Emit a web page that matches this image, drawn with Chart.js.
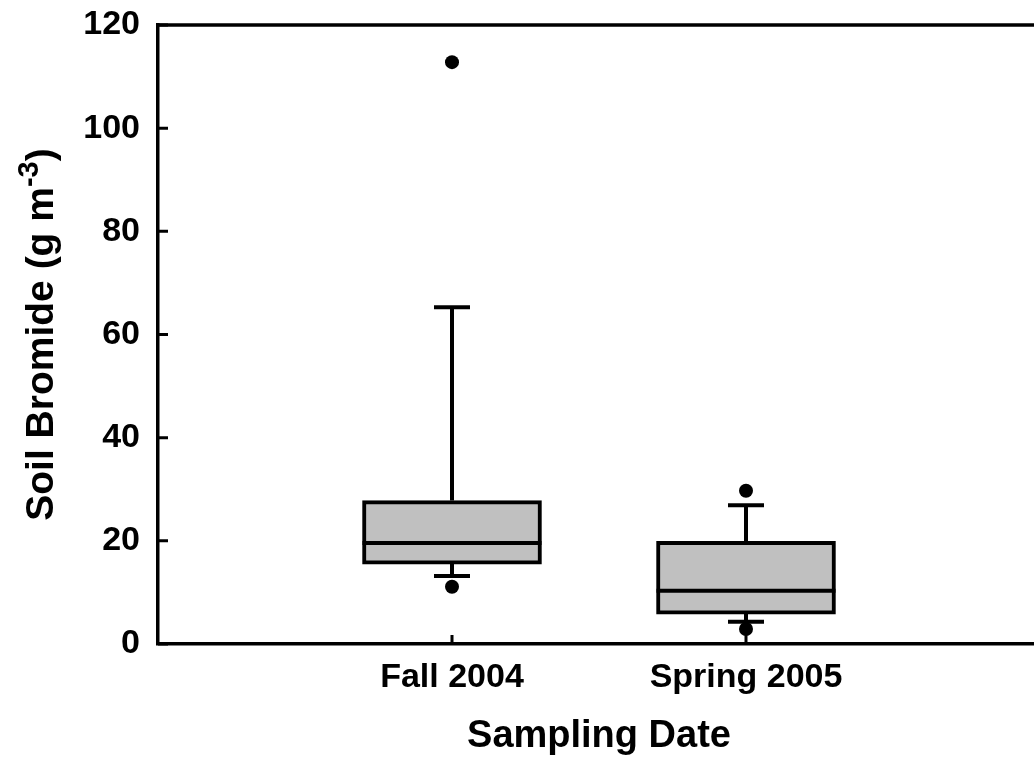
<!DOCTYPE html>
<html>
<head>
<meta charset="utf-8">
<script src="https://cdn.jsdelivr.net/npm/chart.js@4/dist/chart.umd.min.js"></script>
<style>
  html, body { margin: 0; padding: 0; background: #fff; overflow: hidden; }
  #wrap { position: relative; width: 1060px; height: 767px; }
</style>
</head>
<body>
<div id="wrap"><canvas id="chart"></canvas></div>
<script>
const dates = ["Fall 2004", "Spring 2005"];
const q1 = [15.5, 5.8];
const medians = [19.6, 10.3];
const q3 = [27.8, 19.9];
const whiskerLow = [13.2, 4.3];
const whiskerHigh = [65.3, 26.9];
const outliers = [[11.1, 112.8], [2.9, 29.7]];
const yTicks = [0, 20, 40, 60, 80, 100, 120];

const FONT = "'Liberation Sans', Arial, sans-serif";

// whiskers, caps and median lines, placed with the chart's own scales
const boxExtras = {
  id: 'boxExtras',
  afterDatasetsDraw(chart) {
    const ctx = chart.ctx;
    const x = chart.scales.x, y = chart.scales.y;
    const meta = chart.getDatasetMeta(0);
    ctx.save();
    ctx.strokeStyle = '#000';
    ctx.lineWidth = 4;
    ctx.lineCap = 'butt';
    dates.forEach((d, i) => {
      const cx = x.getPixelForValue(i + 1);
      const half = meta.data[i].width / 2;
      // median
      ctx.beginPath();
      ctx.moveTo(cx - half, y.getPixelForValue(medians[i]));
      ctx.lineTo(cx + half, y.getPixelForValue(medians[i]));
      ctx.stroke();
      // whiskers
      ctx.beginPath();
      ctx.moveTo(cx, y.getPixelForValue(q3[i]));
      ctx.lineTo(cx, y.getPixelForValue(whiskerHigh[i]));
      ctx.moveTo(cx, y.getPixelForValue(q1[i]));
      ctx.lineTo(cx, y.getPixelForValue(whiskerLow[i]));
      ctx.stroke();
      // caps
      [whiskerHigh[i], whiskerLow[i]].forEach(v => {
        ctx.beginPath();
        ctx.moveTo(cx - 18, y.getPixelForValue(v));
        ctx.lineTo(cx + 18, y.getPixelForValue(v));
        ctx.stroke();
      });
    });
    ctx.restore();
  }
};

// inward ticks, top frame line and the y title with its superscript
const frame = {
  id: 'frame',
  afterDraw(chart) {
    const ctx = chart.ctx;
    const a = chart.chartArea;
    const x = chart.scales.x, y = chart.scales.y;
    ctx.save();
    ctx.strokeStyle = '#000';
    ctx.lineWidth = 3;
    ctx.beginPath();
    y.ticks.forEach(t => {
      const py = y.getPixelForValue(t.value);
      ctx.moveTo(a.left, py);
      ctx.lineTo(a.left + 10, py);
    });
    x.ticks.forEach(t => {
      const px = x.getPixelForValue(t.value);
      ctx.moveTo(px, a.bottom);
      ctx.lineTo(px, a.bottom - 9);
    });
    ctx.stroke();
    ctx.lineWidth = 3.5;
    ctx.beginPath();
    ctx.moveTo(a.left - 1.75, a.top);
    ctx.lineTo(chart.width, a.top);
    ctx.stroke();

    const big = "bold 39px " + FONT, small = "bold 29px " + FONT;
    const main = "Soil Bromide (g m", sup = "-3", close = ")";
    ctx.font = big;
    const w1 = ctx.measureText(main).width, w3 = ctx.measureText(close).width;
    ctx.font = small;
    const w2 = ctx.measureText(sup).width;
    const total = w1 + w2 + w3;
    ctx.translate(53, (a.top + a.bottom) / 2);
    ctx.rotate(-Math.PI / 2);
    ctx.fillStyle = '#000';
    ctx.textBaseline = 'alphabetic';
    ctx.textAlign = 'left';
    let sx = -total / 2;
    ctx.font = big;
    ctx.fillText(main, sx, 0);
    sx += w1;
    ctx.font = small;
    ctx.fillText(sup, sx, -15);
    sx += w2;
    ctx.font = big;
    ctx.fillText(close, sx, 0);
    ctx.restore();
  }
};

const boxData = dates.map((d, i) => ({ x: i + 1, y: [q1[i], q3[i]] }));
const outlierData = [];
outliers.forEach((list, i) => list.forEach(v => outlierData.push({ x: i + 1, y: v })));

new Chart(document.getElementById('chart'), {
  type: 'bar',
  data: {
    datasets: [{
      data: boxData,
      backgroundColor: '#c0c0c0',
      borderColor: '#000',
      borderWidth: 4,
      borderSkipped: false,
      barThickness: 179
    }, {
      type: 'scatter',
      data: outlierData,
      pointRadius: 7,
      pointBackgroundColor: '#000',
      pointBorderWidth: 0
    }]
  },
  options: {
    responsive: true,
    maintainAspectRatio: false,
    animation: false,
    layout: { padding: { top: 25, right: 20, left: 0, bottom: 0 } },
    plugins: { legend: { display: false }, tooltip: { enabled: false } },
    scales: {
      x: {
        type: 'linear',
        min: 0,
        max: 3,
        offset: false,
        afterBuildTicks: s => { s.ticks = dates.map((d, i) => ({ value: i + 1 })); },
        afterFit: s => { s.height = 123; s.paddingLeft = 0; s.paddingRight = 0; },
        grid: { display: false, drawTicks: false, offset: false },
        border: { display: true, color: '#000', width: 3.5 },
        ticks: {
          callback: v => dates[v - 1],
          color: '#000',
          font: { family: FONT, size: 34, weight: 'bold' },
          padding: 13,
          maxRotation: 0
        },
        title: {
          display: true,
          text: 'Sampling Date',
          color: '#000',
          font: { family: FONT, size: 38, weight: 'bold' },
          padding: { top: 0, bottom: 8 }
        }
      },
      y: {
        min: 0,
        max: 120,
        afterBuildTicks: s => { s.ticks = yTicks.map(v => ({ value: v })); },
        afterFit: s => { s.width = 158; s.paddingTop = 0; s.paddingBottom = 0; },
        grid: { display: false, drawTicks: false },
        border: { display: true, color: '#000', width: 3.5 },
        ticks: {
          color: '#000',
          font: { family: FONT, size: 34, weight: 'bold' },
          padding: 18
        }
      }
    }
  },
  plugins: [boxExtras, frame]
});
</script>
</body>
</html>
